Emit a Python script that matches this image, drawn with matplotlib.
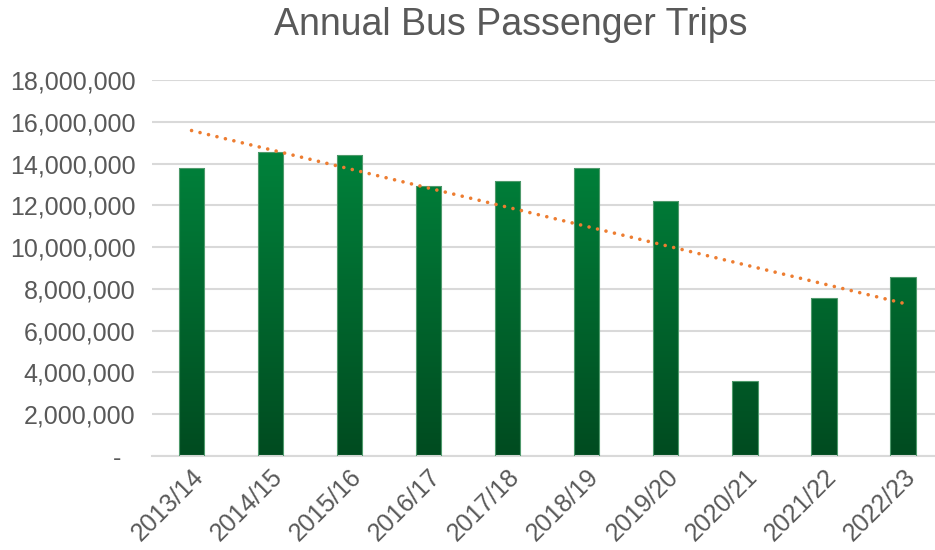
import numpy as np
import matplotlib
matplotlib.use('Agg')
import matplotlib.pyplot as plt
from matplotlib.colors import LinearSegmentedColormap
from matplotlib.ticker import FuncFormatter, MultipleLocator

years = ['2013/14', '2014/15', '2015/16', '2016/17', '2017/18',
         '2018/19', '2019/20', '2020/21', '2021/22', '2022/23']
trips = [13770000, 14540000, 14410000, 12930000, 13160000,
         13800000, 12190000, 3590000, 7560000, 8550000]

plt.rcParams['font.family'] = ['Liberation Sans', 'DejaVu Sans']

fig = plt.figure(figsize=(9.35, 5.5), dpi=100)
ax = fig.add_axes([0.1626, 0.1709, 0.8374, 0.6836])

x = np.arange(len(years))
bars = ax.bar(x, trips, width=0.32, color='none', edgecolor='#4f9a6c', linewidth=0.8, zorder=3)

# verlauf von dunkel (unten) nach hell (oben), absolut zur y-achse
cmap = LinearSegmentedColormap.from_list('grn', ['#004b20', '#00843c'])
grad = np.linspace(0, 1, 256).reshape(-1, 1)
for b in bars:
    x0 = b.get_x()
    h = b.get_height()
    im = ax.imshow(grad[: int(256 * h / 15000000) or 1] if h < 15000000 else grad,
                   extent=[x0, x0 + b.get_width(), 0, h], origin='lower',
                   cmap=cmap, vmin=0, vmax=1, aspect='auto', zorder=2)
    im.set_clip_path(b)

# lineare trendlinie
k, d = np.polyfit(x, trips, 1)
ax.plot(x, k * x + d, color='#ED7D31', linewidth=2.6,
        linestyle=(0, (0.01, 2.4)), dash_capstyle='round', zorder=4)

ax.set_xlim(-0.5, 9.405)
ax.set_ylim(0, 18000000)
ax.yaxis.set_major_locator(MultipleLocator(2000000))
ax.yaxis.set_major_formatter(FuncFormatter(lambda v, p: '-  ' if v == 0 else f'{int(v):,}'))
ax.grid(axis='y', color='#d9d9d9', linewidth=1.5, zorder=0)
ax.set_axisbelow(True)
for s in ['top', 'right', 'left']:
    ax.spines[s].set_visible(False)
ax.spines['bottom'].set_color('#d9d9d9')
ax.spines['bottom'].set_linewidth(1.5)
ax.tick_params(length=0, labelsize=18, colors='#595959', pad=12)
ax.tick_params(axis='x', pad=6)
ax.set_xticks(x)
ax.set_xticklabels(years, rotation=45, ha='right', rotation_mode='anchor')

fig.text(0.546, 0.955, 'Annual Bus Passenger Trips', ha='center', va='center',
         fontsize=27, color='#595959')

fig.savefig('out.png', dpi=100)
